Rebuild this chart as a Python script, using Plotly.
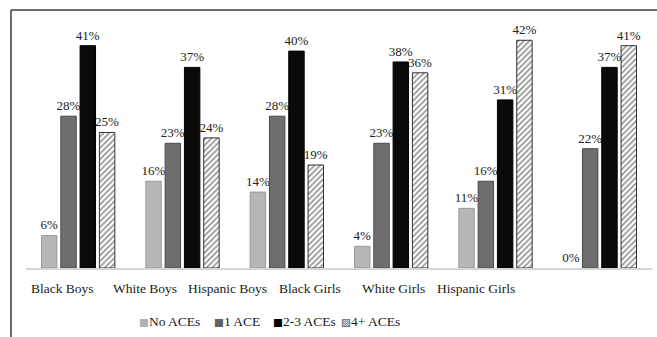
import plotly.graph_objects as go

# Groups and ACE-exposure shares (percent)
groups = ["Black Boys", "White Boys", "Hispanic Boys", "Black Girls", "White Girls", "Hispanic Girls"]
series_names = ["No ACEs", "1 ACE", "2-3 ACEs", "4+ ACEs"]
no_aces = [6, 16, 14, 4, 11, 0]
one_ace = [28, 23, 28, 23, 16, 22]
two_three_aces = [41, 37, 40, 38, 31, 37]
four_plus_aces = [25, 24, 19, 36, 42, 41]

W, H = 657, 337
ML, MR, MT, MB = 26, 5, 24, 69
PW = W - ML - MR
PH = H - MT - MB

SERIF = "Liberation Serif, Times New Roman, serif"

styles = [
    dict(color="#b6b6b6", line_color="#9a9a9a"),
    dict(color="#6e6e6e", line_color="#4a4a4a"),
    dict(color="#0a0a0a", line_color="#000000"),
    dict(color="#ffffff", line_color="#333333",
         pattern=dict(shape="/", fgcolor="#222222", bgcolor="#ffffff", size=4, solidity=0.4)),
]

fig = go.Figure()
label_font = dict(family=SERIF, size=13, color="#222222")
for name, vals, st in zip(series_names, [no_aces, one_ace, two_three_aces, four_plus_aces], styles):
    # no outline on zero-height bars
    st = dict(st, line_width=[1 if v > 0 else 0 for v in vals])
    fig.add_trace(go.Bar(
        x=groups, y=vals, name=name, marker=st,
        texttemplate="%{y}%", textposition="outside",
        textfont=label_font, outsidetextfont=label_font,
        constraintext="none", cliponaxis=False, showlegend=False,
    ))

def px_to_paper_x(px):
    return (px - ML) / PW

def px_to_paper_y(py):
    return (H - MB - py) / PH

annotations = []
# Category labels along the bottom
label_start, label_pitch = 20.6, 82.8
for i, g in enumerate(groups):
    annotations.append(dict(
        x=px_to_paper_x(label_start + label_pitch * (i + 0.5)), y=px_to_paper_y(288),
        xref="paper", yref="paper", xanchor="center", yanchor="middle",
        text=g, showarrow=False, font=dict(family=SERIF, size=13.5, color="#1a1a1a"),
    ))

# Legend row
legend_items = [
    ("#b0b0b0", "■", series_names[0], 137),
    ("#606060", "■", series_names[1], 212),
    ("#000000", "■", series_names[2], 271),
    ("#444444", "▨", series_names[3], 339),
]
for col, glyph, name, px in legend_items:
    annotations.append(dict(
        x=px_to_paper_x(px), y=px_to_paper_y(321),
        xref="paper", yref="paper", xanchor="left", yanchor="middle",
        text=f'<span style="font-family:DejaVu Sans;font-size:10.5px;color:{col}">{glyph}</span>{name}',
        showarrow=False, font=dict(family=SERIF, size=13.5, color="#1a1a1a"),
    ))

# Outer frame (left and top edges)
frame = dict(color="#3c3c3c", width=1.5)
shapes = [
    dict(type="line", xref="paper", yref="paper",
         x0=px_to_paper_x(11), x1=px_to_paper_x(11), y0=px_to_paper_y(10), y1=px_to_paper_y(H + 2), line=frame),
    dict(type="line", xref="paper", yref="paper",
         x0=px_to_paper_x(11), x1=px_to_paper_x(W + 2), y0=px_to_paper_y(10), y1=px_to_paper_y(10), line=frame),
]

fig.update_layout(
    width=W, height=H,
    margin=dict(l=ML, r=MR, t=MT, b=MB, pad=0),
    paper_bgcolor="#ffffff", plot_bgcolor="#ffffff",
    barmode="group", bargap=0.26, bargroupgap=0.2,
    showlegend=False,
    xaxis=dict(showticklabels=False, ticks="", showgrid=False, zeroline=False,
               showline=True, linecolor="#d4d4d4", linewidth=1.5),
    yaxis=dict(range=[0, 45], visible=False, showgrid=False, zeroline=False),
    annotations=annotations, shapes=shapes,
)

fig.write_html("out.html", config={"displayModeBar": False})
